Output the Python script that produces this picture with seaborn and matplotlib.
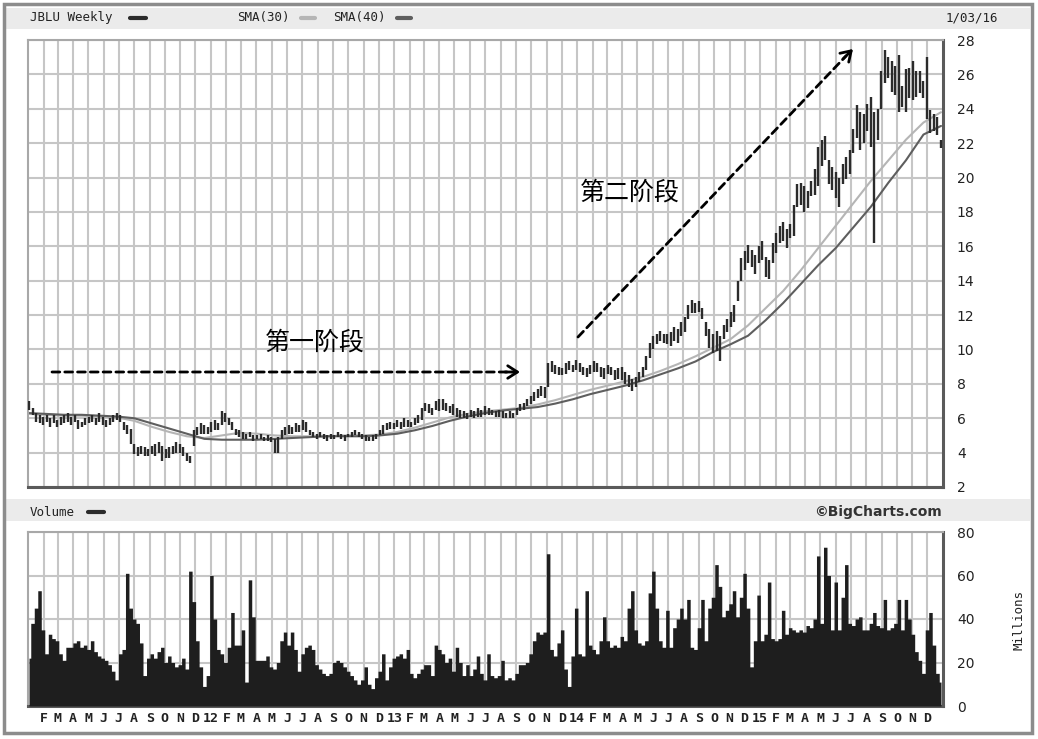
import pandas as pd
import seaborn as sns
import matplotlib.pyplot as plt
from matplotlib.patches import Rectangle
from matplotlib.lines import Line2D

sns.set_style('white')
plt.rcParams['font.family'] = ['DejaVu Sans']

# weekly bars, first week starts 2011-01-03
first_week = '2011-01-03'

highs = [
    7.0, 6.6, 6.3, 6.2, 6.1, 6.2, 6.0, 6.2, 5.9, 6.1,
    6.2, 6.3, 6.1, 6.2, 5.9, 5.8, 6.0, 6.1, 6.2, 6.0,
    6.3, 6.1, 5.9, 6.0, 6.2, 6.3, 6.2, 5.8, 5.6, 5.4,
    4.5, 4.3, 4.4, 4.3, 4.2, 4.4, 4.5, 4.6, 4.4, 4.2,
    4.3, 4.4, 4.6, 4.5, 4.3, 4.0, 3.8, 5.3, 5.5, 5.7,
    5.6, 5.5, 5.8, 5.9, 5.7, 6.4, 6.3, 6.0, 5.8, 5.4,
    5.3, 5.2, 5.1, 5.2, 5.0, 5.0, 5.1, 4.9, 5.0, 4.9,
    4.8, 4.9, 5.3, 5.5, 5.6, 5.5, 5.7, 5.6, 5.9, 5.8,
    5.3, 5.2, 5.1, 5.2, 5.1, 5.0, 5.1, 5.0, 5.2, 5.1,
    5.0, 5.1, 5.2, 5.3, 5.2, 5.1, 5.0, 4.9, 5.0, 5.1,
    5.3, 5.6, 5.7, 5.8, 5.7, 5.9, 5.8, 6.0, 5.9, 5.8,
    6.0, 6.2, 6.6, 6.9, 6.8, 6.6, 7.0, 7.1, 7.1, 6.9,
    6.7, 6.8, 6.6, 6.5, 6.4, 6.3, 6.5, 6.4, 6.6, 6.5,
    6.7, 6.6, 6.5, 6.4, 6.5, 6.4, 6.3, 6.4, 6.3, 6.6,
    6.8, 6.9, 7.1, 7.3, 7.5, 7.7, 7.9, 7.8, 9.2, 9.3,
    9.1, 9.0, 8.9, 9.2, 9.3, 9.1, 9.4, 9.2, 9.0, 8.9,
    9.1, 9.3, 9.2, 9.0, 8.9, 9.1, 9.0, 8.8, 8.9, 9.0,
    8.7, 8.5, 8.3, 8.4, 8.7, 9.0, 9.6, 10.4, 10.8, 10.9,
    11.1, 10.9, 10.9, 11.0, 11.3, 11.2, 11.6, 11.9, 12.6, 12.9,
    12.7, 12.8, 12.4, 11.6, 11.2, 10.9, 11.1, 10.8, 11.4, 11.8,
    12.2, 12.6, 14.0, 15.3, 15.7, 16.1, 15.8, 15.5, 16.0, 16.3,
    15.4, 15.2, 16.2, 16.8, 17.2, 17.4, 17.0, 17.3, 18.4, 19.6,
    19.7, 19.5, 19.2, 19.8, 20.5, 21.8, 22.2, 22.4, 21.0, 20.6,
    20.3, 20.0, 20.8, 21.2, 21.6, 22.8, 24.2, 23.8, 23.7, 24.3,
    24.7, 23.8, 24.0, 26.2, 27.4, 27.0, 26.8, 26.5, 27.1, 25.3,
    26.3, 26.4, 26.8, 26.2, 26.2, 25.6, 27.0, 23.9, 23.7, 23.5,
    22.2]

lows = [
    6.5, 6.2, 5.8, 5.7, 5.6, 5.8, 5.5, 5.7, 5.5, 5.6,
    5.7, 5.8, 5.6, 5.8, 5.4, 5.5, 5.6, 5.7, 5.8, 5.6,
    5.8, 5.6, 5.5, 5.6, 5.8, 5.9, 5.8, 5.3, 5.1, 4.5,
    3.9, 3.8, 3.9, 3.8, 3.8, 3.9, 3.8, 4.0, 3.5, 3.7,
    3.7, 3.9, 4.0, 4.0, 3.8, 3.5, 3.4, 4.4, 5.0, 5.1,
    5.1, 5.1, 5.2, 5.3, 5.3, 5.6, 5.8, 5.6, 5.3, 5.0,
    4.9, 4.8, 4.8, 4.9, 4.7, 4.8, 4.8, 4.7, 4.7, 4.6,
    4.0, 4.0, 4.8, 5.0, 5.1, 5.1, 5.2, 5.2, 5.3, 5.2,
    5.0, 4.9, 4.8, 4.9, 4.8, 4.7, 4.8, 4.8, 4.9, 4.8,
    4.7, 4.9, 4.9, 5.0, 4.9, 4.8, 4.7, 4.7, 4.7, 4.8,
    5.0, 5.1, 5.3, 5.4, 5.4, 5.5, 5.4, 5.5, 5.5, 5.5,
    5.6, 5.7, 5.9, 6.4, 6.3, 6.2, 6.5, 6.4, 6.5, 6.4,
    6.3, 6.2, 6.1, 6.0, 6.0, 5.95, 6.1, 6.0, 6.1, 6.1,
    6.2, 6.2, 6.2, 6.1, 6.1, 6.0, 6.0, 6.0, 6.0, 6.2,
    6.4, 6.5, 6.7, 6.8, 7.0, 7.2, 7.3, 7.2, 7.8, 8.7,
    8.6, 8.5, 8.5, 8.6, 8.8, 8.7, 8.8, 8.7, 8.5, 8.4,
    8.6, 8.7, 8.7, 8.4, 8.3, 8.6, 8.5, 8.2, 8.3, 8.2,
    8.0, 7.8, 7.6, 7.8, 8.1, 8.4, 8.8, 9.5, 10.0, 10.3,
    10.5, 10.4, 10.3, 10.2, 10.5, 10.4, 10.8, 11.0, 11.8, 12.1,
    12.1, 12.2, 11.8, 10.8, 10.1, 9.8, 9.9, 9.3, 10.6, 11.0,
    11.3, 11.6, 12.8, 14.0, 14.6, 15.0, 14.8, 14.4, 15.0, 15.2,
    14.2, 14.1, 15.0, 15.6, 16.2, 16.3, 15.9, 16.5, 16.6, 18.3,
    18.4, 18.0, 18.2, 18.9, 19.0, 19.5, 20.7, 21.0, 19.6, 19.3,
    18.8, 18.3, 19.6, 19.9, 20.2, 21.4, 22.3, 21.6, 22.0, 22.7,
    21.8, 16.2, 22.2, 24.0, 25.5, 25.8, 25.0, 24.8, 23.8, 24.1,
    23.8, 24.6, 24.5, 24.7, 24.9, 24.6, 23.4, 22.6, 22.7, 22.5,
    21.7]

# weekly volume, millions of shares
volume = [
    22, 38, 45, 53, 35, 24, 33, 31, 30, 24,
    21, 27, 27, 29, 30, 27, 28, 26, 30, 25,
    23, 22, 21, 19, 16, 12, 24, 26, 61, 45,
    40, 38, 29, 14, 22, 24, 22, 25, 27, 20,
    23, 20, 18, 19, 22, 17, 62, 48, 30, 18,
    9, 14, 60, 40, 26, 24, 20, 27, 43, 28,
    28, 35, 11, 58, 41, 21, 21, 21, 23, 18,
    17, 20, 30, 34, 28, 34, 26, 16, 24, 27,
    28, 26, 19, 17, 15, 14, 15, 20, 21, 20,
    18, 16, 14, 12, 10, 12, 18, 10, 8, 13,
    16, 24, 12, 18, 22, 23, 24, 22, 26, 15,
    13, 15, 17, 19, 19, 14, 28, 26, 24, 20,
    22, 16, 27, 20, 14, 19, 14, 17, 23, 15,
    12, 24, 14, 13, 14, 21, 12, 13, 12, 15,
    19, 19, 20, 24, 30, 34, 33, 34, 70, 26,
    23, 29, 35, 17, 9, 23, 45, 24, 23, 53,
    28, 26, 24, 30, 41, 30, 27, 28, 27, 32,
    30, 45, 53, 35, 29, 28, 30, 52, 62, 45,
    30, 27, 44, 27, 36, 40, 45, 40, 49, 27,
    26, 36, 49, 30, 45, 50, 65, 55, 41, 44,
    47, 53, 41, 50, 61, 45, 18, 30, 51, 30,
    33, 57, 31, 30, 31, 44, 33, 36, 35, 34,
    35, 34, 37, 36, 40, 69, 38, 73, 60, 35,
    57, 35, 50, 65, 38, 37, 40, 41, 35, 35,
    38, 43, 37, 36, 49, 35, 36, 38, 49, 35,
    49, 40, 33, 25, 21, 15, 35, 43, 28, 15,
    11]

# moving averages, read every 5th week
sma30 = [6.25, 6.2, 6.15, 6.15, 6.1, 6.05, 5.85, 5.5, 5.2, 4.95,
         4.85, 5.0, 5.15, 5.1, 5.0, 4.95, 4.95, 4.95, 5.0, 5.0,
         5.05, 5.2, 5.45, 5.75, 6.05, 6.25, 6.4, 6.5, 6.6, 6.8,
         7.05, 7.35, 7.65, 7.9, 8.15, 8.4, 8.75, 9.15, 9.6, 10.1,
         10.6, 11.4, 12.4, 13.4, 14.6, 15.9, 17.2, 18.5, 19.8, 21.0,
         22.2, 23.2, 23.8]
sma40 = [6.3, 6.25, 6.2, 6.2, 6.15, 6.1, 6.0, 5.7, 5.4, 5.1,
         4.8, 4.75, 4.75, 4.75, 4.8, 4.85, 4.9, 4.95, 4.95, 4.95,
         5.0, 5.1, 5.3, 5.55, 5.85, 6.1, 6.3, 6.45, 6.55, 6.65,
         6.85, 7.1, 7.4, 7.65, 7.9, 8.2, 8.55, 8.9, 9.3, 9.85,
         10.3, 10.8, 11.7, 12.7, 13.8, 14.9, 15.9, 17.1, 18.3, 19.7,
         21.0, 22.5, 23.0]

price_ticks = list(range(2, 29, 2))
volume_ticks = [0, 20, 40, 60, 80]

weeks = pd.date_range(first_week, periods=len(highs), freq='7D')
df = pd.DataFrame({'week': weeks, 'high': highs, 'low': lows, 'volume': volume})
sma = pd.DataFrame({'week': weeks[::5], 'SMA(30)': sma30, 'SMA(40)': sma40})
sma = sma.melt(id_vars='week', var_name='line', value_name='price')

months = pd.date_range('2011-02-01', '2015-12-01', freq='MS')
month_labels = [d.strftime('%y') if d.month == 1 else d.strftime('%b')[0] for d in months]
x0, x1 = pd.Timestamp('2011-01-01'), pd.Timestamp('2016-01-01')

W, H = 1038, 739
fig = plt.figure(figsize=(W / 100, H / 100), dpi=100)


def fr(x, y):
    # pixel position (from top-left) -> figure fraction
    return x / W, 1 - y / H


# frame and header strips
fig.add_artist(Rectangle(fr(4, 733), 1028 / W, 729 / H, transform=fig.transFigure,
                         fill=False, ec='#8c8c8c', lw=2.5))
fig.add_artist(Rectangle(fr(6, 29), 1024 / W, 21 / H, transform=fig.transFigure,
                         color='#ebebeb', lw=0, zorder=0))
fig.add_artist(Rectangle(fr(6, 521), 1024 / W, 22 / H, transform=fig.transFigure,
                         color='#ebebeb', lw=0, zorder=0))

ax = fig.add_axes([28 / W, 1 - 487 / H, 915 / W, 447 / H])
axv = fig.add_axes([28 / W, 1 - 706 / H, 915 / W, 174 / H])

grid_kw = dict(color='#c6c6c6', lw=1.5)

# price panel
ax.vlines(df['week'], df['low'], df['high'], color='#2b2b2b', lw=1.7, zorder=3)
sns.lineplot(data=sma, x='week', y='price', hue='line',
             palette={'SMA(30)': '#b5b5b5', 'SMA(40)': '#5e5e5e'},
             lw=1.5, legend=False, ax=ax, zorder=2)
ax.set_xlim(x0, x1)
ax.set_ylim(2, 28)
ax.set_xticks(months)
ax.set_xticklabels([])
ax.set_yticks(price_ticks)
ax.yaxis.tick_right()
ax.grid(True, **grid_kw)
ax.set_axisbelow(True)
ax.tick_params(axis='both', length=0)
ax.tick_params(axis='y', pad=10, labelsize=10, colors='#222222')
ax.set_xlabel('')
ax.set_ylabel('')
for s in ['left', 'top']:
    ax.spines[s].set_color('#a8a8a8')
    ax.spines[s].set_linewidth(1.5)
for s in ['right', 'bottom']:
    ax.spines[s].set_color('#5a5a5a')
    ax.spines[s].set_linewidth(2.2)

# volume panel
axv.fill_between(df['week'], df['volume'], step='mid', color='#1e1e1e', lw=0, zorder=3)
axv.set_xlim(x0, x1)
axv.set_ylim(0, 80)
axv.set_yticks(volume_ticks)
axv.yaxis.tick_right()
axv.set_xticks(months)
axv.set_xticklabels(month_labels, family='DejaVu Sans Mono', fontsize=9.5,
                    fontweight='bold', color='#222222')
axv.grid(True, **grid_kw)
axv.set_axisbelow(True)
axv.tick_params(axis='both', length=0)
axv.tick_params(axis='y', pad=10, labelsize=10, colors='#222222')
axv.tick_params(axis='x', pad=4)
for s in ['left', 'top']:
    axv.spines[s].set_color('#a8a8a8')
    axv.spines[s].set_linewidth(1.5)
for s in ['right', 'bottom']:
    axv.spines[s].set_color('#5a5a5a')
    axv.spines[s].set_linewidth(2.2)
fig.text(*fr(1019, 620), 'Millions', rotation=90, ha='center', va='center',
         family='DejaVu Sans Mono', fontsize=9, color='#222222')

# header texts
mono = dict(family='DejaVu Sans Mono', fontsize=9, color='#222222', va='center')
fig.text(*fr(30, 18), 'JBLU Weekly', **mono)
fig.add_artist(Line2D([130 / W, 146 / W], [1 - 18 / H] * 2, transform=fig.transFigure,
                      color='#2b2b2b', lw=3))
fig.text(*fr(237, 18), 'SMA(30)', **mono)
fig.add_artist(Line2D([301 / W, 315 / W], [1 - 18 / H] * 2, transform=fig.transFigure,
                      color='#b5b5b5', lw=3))
fig.text(*fr(333, 18), 'SMA(40)', **mono)
fig.add_artist(Line2D([397 / W, 411 / W], [1 - 18 / H] * 2, transform=fig.transFigure,
                      color='#5e5e5e', lw=3))
fig.text(*fr(946, 18), '1/03/16', **mono)
fig.text(*fr(30, 512), 'Volume', **mono)
fig.add_artist(Line2D([88 / W, 104 / W], [1 - 512 / H] * 2, transform=fig.transFigure,
                      color='#2b2b2b', lw=3))
fig.text(*fr(942, 512), '©BigCharts.com', ha='right', va='center',
         fontsize=10, fontweight='bold', color='#333333')

# stage annotations
cjk = dict(family=['Noto Sans CJK SC', 'DejaVu Sans'], fontsize=18, color='black',
           ha='center', va='center')
fig.text(*fr(315, 343), '第一阶段', **cjk)
fig.text(*fr(630, 193), '第二阶段', **cjk)

dash_kw = dict(arrowstyle='-', lw=2, color='black', linestyle=(0, (2.8, 1.8)),
               shrinkA=0, shrinkB=0)
head_kw = dict(arrowstyle='->,head_length=0.7,head_width=0.45', lw=2, color='black',
               shrinkA=0, shrinkB=0)
fig.add_artist(plt.Annotation('', xy=fr(512, 372), xytext=fr(52, 372),
                              xycoords='figure fraction', arrowprops=dash_kw))
fig.add_artist(plt.Annotation('', xy=fr(520, 372), xytext=fr(505, 372),
                              xycoords='figure fraction', arrowprops=head_kw))
fig.add_artist(plt.Annotation('', xy=fr(846, 56), xytext=fr(578, 337),
                              xycoords='figure fraction', arrowprops=dash_kw))
fig.add_artist(plt.Annotation('', xy=fr(853, 49), xytext=fr(843, 59),
                              xycoords='figure fraction', arrowprops=head_kw))

fig.savefig('out.png', dpi=100)
